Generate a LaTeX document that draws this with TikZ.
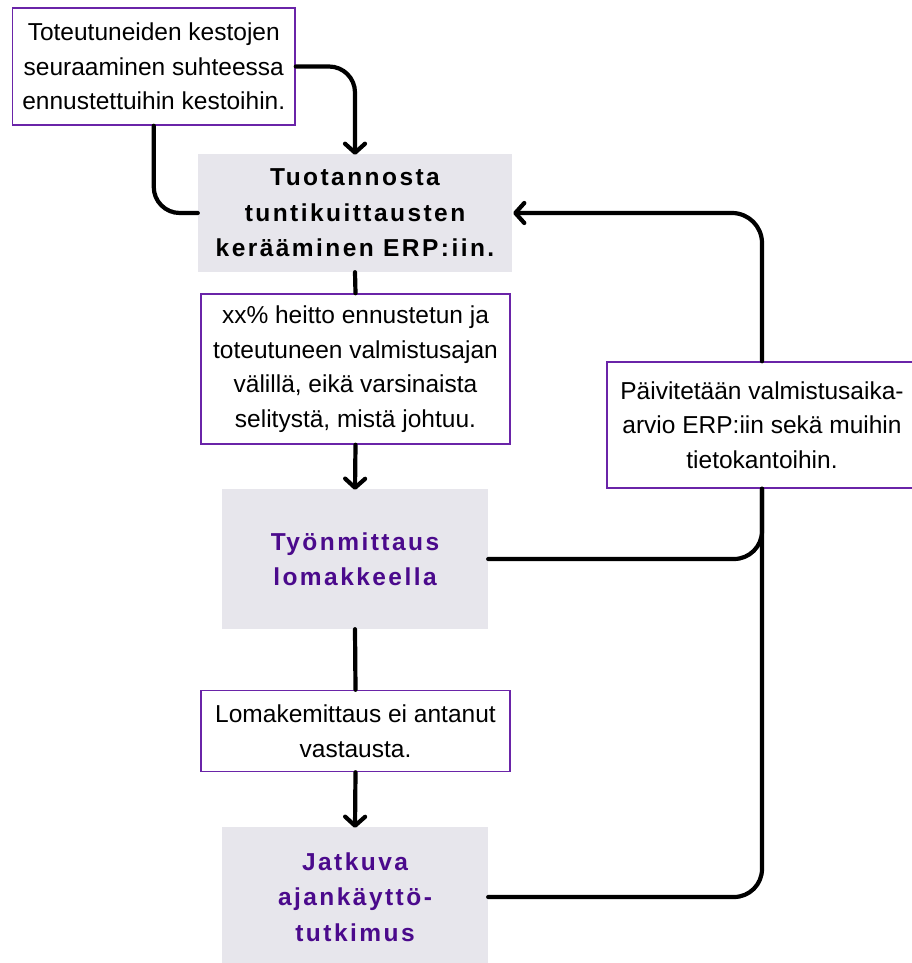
\documentclass[tikz,border=0pt]{standalone}
\usepackage{fontspec}
\setmainfont{Liberation Sans}
\usetikzlibrary{arrows.meta}
\definecolor{boxpurple}{HTML}{6A24A8}
\definecolor{txtpurple}{HTML}{4B0A8C}
\definecolor{boxgray}{HTML}{E7E6EC}
\tikzset{
  note/.style={draw=boxpurple, line width=1.5pt, fill=white, align=center, inner sep=0pt,
    font=\fontsize{24.5}{34.5}\selectfont},
  graybox/.style={fill=boxgray, align=center, inner sep=0pt,
    font=\fontsize{24.5}{35.5}\selectfont\bfseries\addfontfeature{LetterSpace=10}},
  conn/.style={line width=4.2pt, black, line cap=round, line join=round},
  arr/.style={conn, -{Straight Barb[length=9pt,width=20pt,line cap=round,line join=round]}},
}
\begin{document}
\begin{tikzpicture}[x=1pt,y=-1pt]
\useasboundingbox (0,0) rectangle (911,963);
\node[note, minimum width=282.5pt, minimum height=117pt] (A) at (153.75,66.5)
  {Toteutuneiden kestojen\\seuraaminen suhteessa\\ennustettuihin kestoihin.};
\node[graybox, minimum width=314pt, minimum height=118pt] (B) at (355,213)
  {Tuotannosta\\tuntikuittausten\\kerääminen ERP:iin.};
\node[note, minimum width=309pt, minimum height=150pt] (D) at (355.5,369)
  {xx\% heitto ennustetun ja\\toteutuneen valmistusajan\\välillä, eikä varsinaista\\selitystä, mistä johtuu.};
\node[graybox, text=txtpurple, minimum width=266pt, minimum height=140pt] (E) at (355,559)
  {Työnmittaus\\lomakkeella};
\node[note, minimum width=309pt, minimum height=81pt] (F) at (355.5,731)
  {Lomakemittaus ei antanut\\vastausta.};
\node[graybox, text=txtpurple, minimum width=266pt, minimum height=140pt] (G) at (355,897)
  {Jatkuva\\ajankäyttö-\\tutkimus};
\node[note, minimum width=310pt, minimum height=126pt] (C) at (762,425)
  {Päivitetään valmistusaika-\\arvio ERP:iin sekä muihin\\tietokantoihin.};

\draw[arr, rounded corners=26pt] (A.east) -| ([yshift=-1pt]B.north);
\draw[conn, rounded corners=26pt] (A.south) |- (B.west);
\draw[conn] (B.south) -- (D.north);
\draw[arr] (D.south) -- ([yshift=-1pt]E.north);
\draw[conn] (E.south) -- (F.north);
\draw[arr] (F.south) -- ([yshift=-1pt]G.north);
\draw[arr, rounded corners=30pt] (C.north) |- ([xshift=1pt]B.east);
\draw[conn, rounded corners=28pt] (E.east) -| (C.south);
\draw[conn, rounded corners=28pt] (G.east) -| (C.south);
\end{tikzpicture}
\end{document}
